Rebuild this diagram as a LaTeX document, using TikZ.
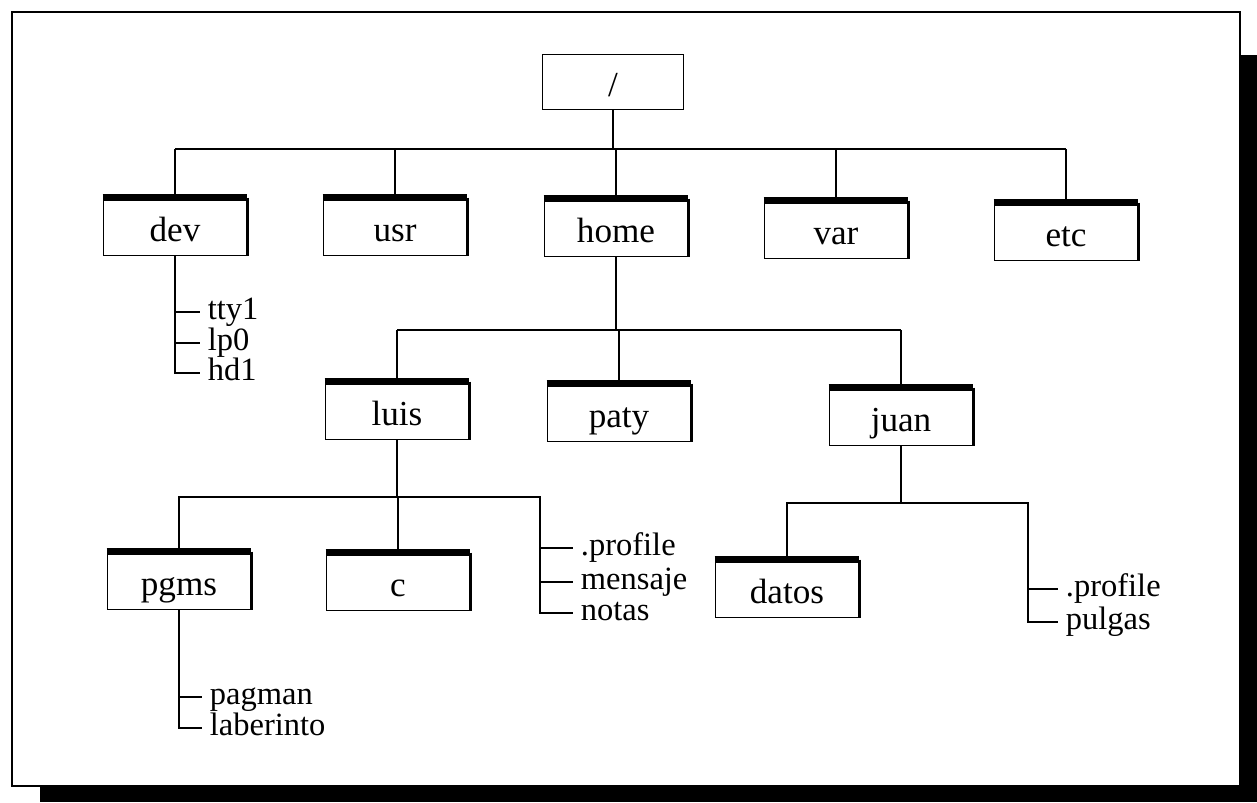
\documentclass[tikz,border=0pt]{standalone}
\usepackage{fontspec}
\setmainfont{Liberation Serif}
\begin{document}
\begin{tikzpicture}[x=0.02cm,y=-0.02cm,line width=1pt,font=\fontsize{20}{24}\selectfont,
    dir/.style={draw,minimum width=2.86cm,minimum height=1.14cm,inner sep=0pt,text height=20pt,text depth=4pt},
    file/.style={anchor=west,inner xsep=4pt,inner ysep=0pt,text height=11pt,text depth=3pt,font=\fontsize{18.5}{22}\selectfont}]
  \useasboundingbox (0,0) rectangle (1257,802);
  \fill (40,55) rectangle (1257,802);
  \filldraw[fill=white,line width=0.8pt] (12,12) rectangle (1240,786);

  \node[dir,minimum width=2.82cm,minimum height=1.1cm] (root) at (613,82) {/};
  \node[dir] (dev) at (175,227) {dev};
  \node[dir] (usr) at (395,227) {usr};
  \node[dir] (home) at (616,228) {home};
  \node[dir] (var) at (836,230) {var};
  \node[dir] (etc) at (1066,232) {etc};
  \node[dir] (luis) at (397,411) {luis};
  \node[dir] (paty) at (619,413) {paty};
  \node[dir] (juan) at (901,417) {juan};
  \node[dir] (pgms) at (179,581) {pgms};
  \node[dir] (c) at (398,582) {c};
  \node[dir] (datos) at (787,589) {datos};
  \foreach \n in {dev,usr,home,var,etc,luis,paty,juan,pgms,c,datos} {
    \draw[line width=4pt] (\n.north west) -- (\n.north east);
    \draw[line width=1.6pt] (\n.north east) -- (\n.south east);
  }

  \node[file] (tty) at (200,312) {tty1};
  \node[file] (lpz) at (200,343) {lp0};
  \node[file] (hdone) at (200,373) {hd1};
  \node[file] (profl) at (573,548) {.profile};
  \node[file] (mensaje) at (573,582) {mensaje};
  \node[file] (notas) at (573,613) {notas};
  \node[file] (pagman) at (202,697) {pagman};
  \node[file] (laberinto) at (202,728) {laberinto};
  \node[file] (profj) at (1058,589) {.profile};
  \node[file] (pulgas) at (1058,622) {pulgas};

  \coordinate (top) at (618,149);
  \draw (root.south) -- (root.south |- top);
  \draw (dev.north |- top) -- (etc.north |- top);
  \foreach \n in {dev,usr,home,var,etc} \draw (\n.north |- top) -- (\n.north);

  \draw (dev.south) |- (hdone.west);
  \draw (dev.south |- tty.west) -- (tty.west);
  \draw (dev.south |- lpz.west) -- (lpz.west);

  \coordinate (mid) at (618,330);
  \draw (home.south) -- (home.south |- mid);
  \draw (luis.north |- mid) -- (juan.north |- mid);
  \foreach \n in {luis,paty,juan} \draw (\n.north |- mid) -- (\n.north);

  \coordinate (lbar) at (540,497);
  \draw (luis.south) -- (luis.south |- lbar);
  \draw (pgms.north) -- (pgms.north |- lbar) -- (lbar) |- (notas.west);
  \draw (c.north |- lbar) -- (c.north);
  \draw (lbar |- profl.west) -- (profl.west);
  \draw (lbar |- mensaje.west) -- (mensaje.west);

  \draw (pgms.south) |- (laberinto.west);
  \draw (pgms.south |- pagman.west) -- (pagman.west);

  \coordinate (jbar) at (1028,503);
  \draw (juan.south) -- (juan.south |- jbar);
  \draw (datos.north) -- (datos.north |- jbar) -- (jbar) |- (pulgas.west);
  \draw (jbar |- profj.west) -- (profj.west);
\end{tikzpicture}
\end{document}
